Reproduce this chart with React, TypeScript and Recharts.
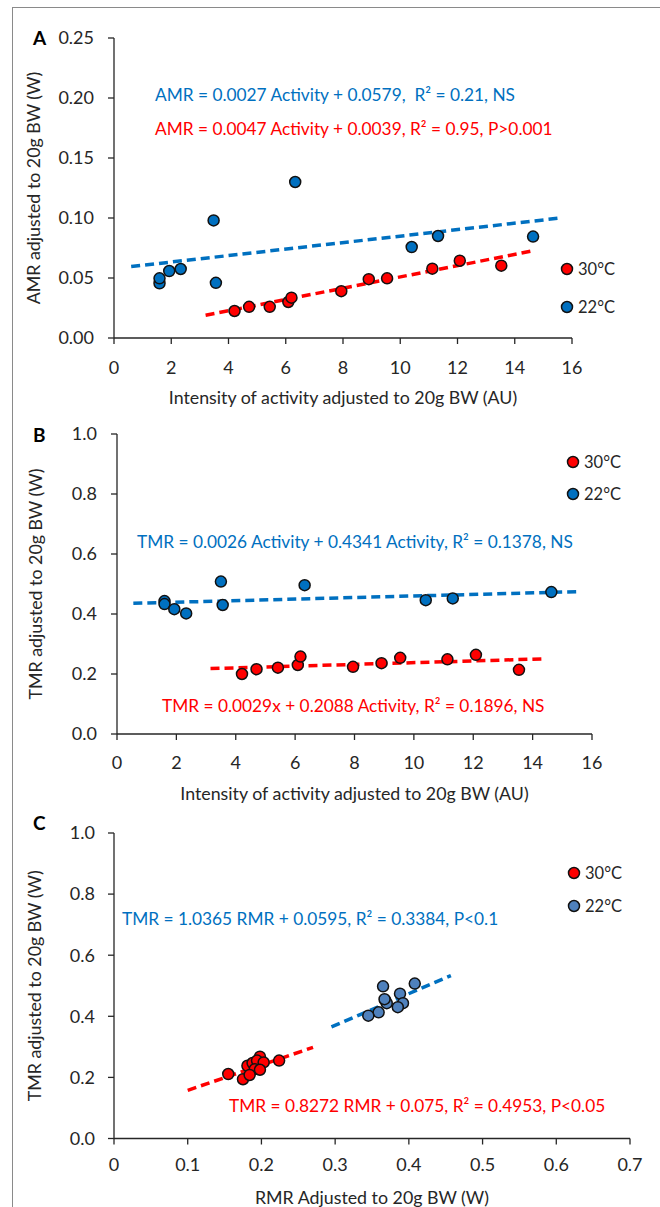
import { ScatterChart, Scatter, XAxis, YAxis, ReferenceLine, Label } from 'recharts';

const FONT = 'Lato, "Open Sans", sans-serif';
const BLUE = '#0070C0';
const RED = '#FF0000';
const STEEL = '#4F81BD';
const INK = '#262626';

// Panel A: AMR vs intensity of activity
const activityWarmA = [4.21, 4.72, 5.44, 6.09, 6.2, 7.94, 8.9, 9.54, 11.12, 12.08, 13.53];
const amrWarm = [0.0225, 0.026, 0.026, 0.03, 0.0336, 0.039, 0.049, 0.0497, 0.0578, 0.0644, 0.0603];
const activityCoolA = [1.59, 1.59, 1.93, 2.33, 3.48, 3.56, 6.33, 10.4, 11.32, 14.64];
const amrCool = [0.0456, 0.0497, 0.0558, 0.0575, 0.098, 0.046, 0.13, 0.0758, 0.085, 0.0845];

// Panel B: TMR vs intensity of activity
const activityWarmB = [4.21, 4.7, 5.42, 6.09, 6.18, 7.95, 8.91, 9.54, 11.13, 12.09, 13.54];
const tmrWarmB = [0.2, 0.216, 0.221, 0.23, 0.258, 0.224, 0.236, 0.254, 0.249, 0.264, 0.214];
const activityCoolB = [1.6, 1.6, 1.93, 2.33, 3.5, 3.56, 6.32, 10.4, 11.31, 14.63];
const tmrCoolB = [0.443, 0.433, 0.416, 0.402, 0.508, 0.43, 0.496, 0.446, 0.452, 0.473];

// Panel C: TMR vs RMR
const rmrWarm = [0.155, 0.175, 0.181, 0.188, 0.198, 0.194, 0.203, 0.191, 0.198, 0.184, 0.224];
const tmrWarmC = [0.211, 0.194, 0.238, 0.247, 0.268, 0.255, 0.249, 0.227, 0.225, 0.208, 0.255];
const rmrCool = [0.365, 0.408, 0.388, 0.368, 0.37, 0.392, 0.385, 0.359, 0.345, 0.367];
const tmrCoolC = [0.498, 0.507, 0.474, 0.452, 0.443, 0.443, 0.43, 0.413, 0.402, 0.456];

// regression fits [slope, intercept] and the x span drawn
const fitAmrCool = [0.0027, 0.0579];
const spanAmrCool = [0.6, 15.6];
const fitAmrWarm = [0.0047, 0.0039];
const spanAmrWarm = [3.2, 14.6];
const fitTmrCoolB = [0.0026, 0.4341];
const spanTmrCoolB = [0.55, 15.6];
const fitTmrWarmB = [0.0029, 0.2088];
const spanTmrWarmB = [3.15, 14.4];
const fitTmrCoolC = [1.0365, 0.0595];
const spanTmrCoolC = [0.295, 0.457];
const fitTmrWarmC = [0.8272, 0.075];
const spanTmrWarmC = [0.1, 0.27];

const ticksActivity = [0, 2, 4, 6, 8, 10, 12, 14, 16];
const ticksAmr = [0, 0.05, 0.1, 0.15, 0.2, 0.25];
const ticksTmr = [0, 0.2, 0.4, 0.6, 0.8, 1.0];
const ticksRmr = [0, 0.1, 0.2, 0.3, 0.4, 0.5, 0.6, 0.7];

const pts = (xs: number[], ys: number[]) => xs.map((x, i) => ({ x, y: ys[i] }));
const seg = (fit: number[], span: number[]) => span.map((x) => ({ x, y: fit[0] * x + fit[1] }));

const dot = (color: string) => (p: any) => (
  <circle cx={p.cx} cy={p.cy} r={5.5} fill={color} stroke="#111" strokeWidth={1.5} />
);

const tickStyle = { fill: INK, fontSize: 18, fontFamily: FONT };
const titleStyle = { fontSize: 17.8, fontFamily: FONT };

function trend(fit: number[], span: number[], color: string) {
  return (
    <ReferenceLine
      segment={seg(fit, span)}
      stroke={color}
      strokeWidth={3.5}
      strokeDasharray="9 5"
      ifOverflow="visible"
    />
  );
}

export default function App() {
  return (
    <div style={{ position: 'absolute', left: 0, top: 0, width: 660, height: 1207, background: '#fff', overflow: 'hidden' }}>
      {/* frame */}
      <div style={{ position: 'absolute', left: 12, top: 7, width: 700, height: 1300, borderLeft: '1.5px solid #8a8a8a', borderTop: '1.5px solid #8a8a8a' }} />

      {/* A */}
      <div style={{ position: 'absolute', left: 0, top: 0 }}>
        <ScatterChart width={660} height={410} margin={{ top: 38, right: 88, left: 14, bottom: 0 }}>
          <XAxis type="number" dataKey="x" domain={[0, 16]} ticks={ticksActivity} interval={0} allowDataOverflow
            stroke={INK} strokeWidth={1.3} tickSize={6} tickMargin={17} tick={tickStyle} height={72}>
            <Label value="Intensity of activity adjusted to 20g BW (AU)" position="insideTop" offset={53} fill={INK} style={titleStyle} />
          </XAxis>
          <YAxis type="number" dataKey="y" domain={[0, 0.25]} ticks={ticksAmr} interval={0} allowDataOverflow
            tickFormatter={(v: number) => v.toFixed(2)}
            stroke={INK} strokeWidth={1.3} tickSize={6} tickMargin={14} tick={tickStyle} width={100}>
            <Label value="AMR adjusted to 20g BW (W)" angle={-90} position="center" dx={-30} fill={INK} style={titleStyle} />
          </YAxis>
          <Scatter data={pts(activityCoolA, amrCool)} shape={dot(BLUE)} isAnimationActive={false} />
          <Scatter data={pts(activityWarmA, amrWarm)} shape={dot(RED)} isAnimationActive={false} />
          {trend(fitAmrCool, spanAmrCool, BLUE)}
          {trend(fitAmrWarm, spanAmrWarm, RED)}
        </ScatterChart>
      </div>

      {/* B */}
      <div style={{ position: 'absolute', left: 0, top: 400 }}>
        <ScatterChart width={660} height={410} margin={{ top: 34, right: 68, left: 17, bottom: 0 }}>
          <XAxis type="number" dataKey="x" domain={[0, 16]} ticks={ticksActivity} interval={0} allowDataOverflow
            stroke={INK} strokeWidth={1.3} tickSize={6} tickMargin={16} tick={tickStyle} height={76}>
            <Label value="Intensity of activity adjusted to 20g BW (AU)" position="insideTop" offset={53} fill={INK} style={titleStyle} />
          </XAxis>
          <YAxis type="number" dataKey="y" domain={[0, 1]} ticks={ticksTmr} interval={0} allowDataOverflow
            tickFormatter={(v: number) => v.toFixed(1)}
            stroke={INK} strokeWidth={1.3} tickSize={6} tickMargin={14} tick={tickStyle} width={100}>
            <Label value="TMR adjusted to 20g BW (W)" angle={-90} position="center" dx={-31} fill={INK} style={titleStyle} />
          </YAxis>
          <Scatter data={pts(activityCoolB, tmrCoolB)} shape={dot(BLUE)} isAnimationActive={false} />
          <Scatter data={pts(activityWarmB, tmrWarmB)} shape={dot(RED)} isAnimationActive={false} />
          {trend(fitTmrCoolB, spanTmrCoolB, BLUE)}
          {trend(fitTmrWarmB, spanTmrWarmB, RED)}
        </ScatterChart>
      </div>

      {/* C */}
      <div style={{ position: 'absolute', left: 0, top: 800 }}>
        <ScatterChart width={660} height={407} margin={{ top: 33, right: 30, left: 14, bottom: 0 }}>
          <XAxis type="number" dataKey="x" domain={[0, 0.7]} ticks={ticksRmr} interval={0} allowDataOverflow
            tickFormatter={(v: number) => (v === 0 ? '0' : v.toFixed(1))}
            stroke={INK} strokeWidth={1.3} tickSize={6} tickMargin={14} tick={tickStyle} height={68.5}>
            <Label value="RMR Adjusted to 20g BW (W)" position="insideTop" offset={53} fill={INK} style={titleStyle} />
          </XAxis>
          <YAxis type="number" dataKey="y" domain={[0, 1]} ticks={ticksTmr} interval={0} allowDataOverflow
            tickFormatter={(v: number) => v.toFixed(1)}
            stroke={INK} strokeWidth={1.3} tickSize={6} tickMargin={13} tick={tickStyle} width={100}>
            <Label value="TMR adjusted to 20g BW (W)" angle={-90} position="center" dx={-29} fill={INK} style={titleStyle} />
          </YAxis>
          <Scatter data={pts(rmrCool, tmrCoolC)} shape={dot(STEEL)} isAnimationActive={false} />
          <Scatter data={pts(rmrWarm, tmrWarmC)} shape={dot(RED)} isAnimationActive={false} />
          {trend(fitTmrCoolC, spanTmrCoolC, BLUE)}
          {trend(fitTmrWarmC, spanTmrWarmC, RED)}
        </ScatterChart>
      </div>

      {/* panel letters, equations, legends */}
      <svg width={660} height={1207} style={{ position: 'absolute', left: 0, top: 0, pointerEvents: 'none' }}>
        <g fontFamily={FONT} fontSize={17.3}>
          <text x={33} y={45} fontWeight="bold" fontSize={19} fill="#000">A</text>
          <text x={33} y={442} fontWeight="bold" fontSize={19} fill="#000">B</text>
          <text x={33} y={830} fontWeight="bold" fontSize={19} fill="#000">C</text>

          <text x={155} y={101} fill={BLUE} xmlSpace="preserve">AMR = 0.0027 Activity + 0.0579,  R² = 0.21, NS</text>
          <text x={155} y={135} fill={RED}>AMR = 0.0047 Activity + 0.0039, R² = 0.95, P&gt;0.001</text>
          <text x={137} y={548} fill={BLUE}>TMR = 0.0026 Activity + 0.4341 Activity, R² = 0.1378, NS</text>
          <text x={162} y={712} fill={RED}>TMR = 0.0029x + 0.2088 Activity, R² = 0.1896, NS</text>
          <text x={122} y={925} fill={BLUE}>TMR = 1.0365 RMR + 0.0595, R² = 0.3384, P&lt;0.1</text>
          <text x={229} y={1112} fill={RED}>TMR = 0.8272 RMR + 0.075, R² = 0.4953, P&lt;0.05</text>

          <g fontSize={16.5}>
            <circle cx={567} cy={269} r={5.5} fill={RED} stroke="#111" strokeWidth={1.5} />
            <text x={578} y={275} fill={INK}>30°C</text>
            <circle cx={567} cy={307} r={5.5} fill={BLUE} stroke="#111" strokeWidth={1.5} />
            <text x={578} y={313} fill={INK}>22°C</text>

            <circle cx={573} cy={462} r={5.5} fill={RED} stroke="#111" strokeWidth={1.5} />
            <text x={584} y={468} fill={INK}>30°C</text>
            <circle cx={573} cy={494} r={5.5} fill={BLUE} stroke="#111" strokeWidth={1.5} />
            <text x={584} y={500} fill={INK}>22°C</text>

            <circle cx={574} cy={873} r={5.5} fill={RED} stroke="#111" strokeWidth={1.5} />
            <text x={585} y={879} fill={INK}>30°C</text>
            <circle cx={574} cy={906} r={5.5} fill={STEEL} stroke="#111" strokeWidth={1.5} />
            <text x={585} y={912} fill={INK}>22°C</text>
          </g>
        </g>
      </svg>
    </div>
  );
}
